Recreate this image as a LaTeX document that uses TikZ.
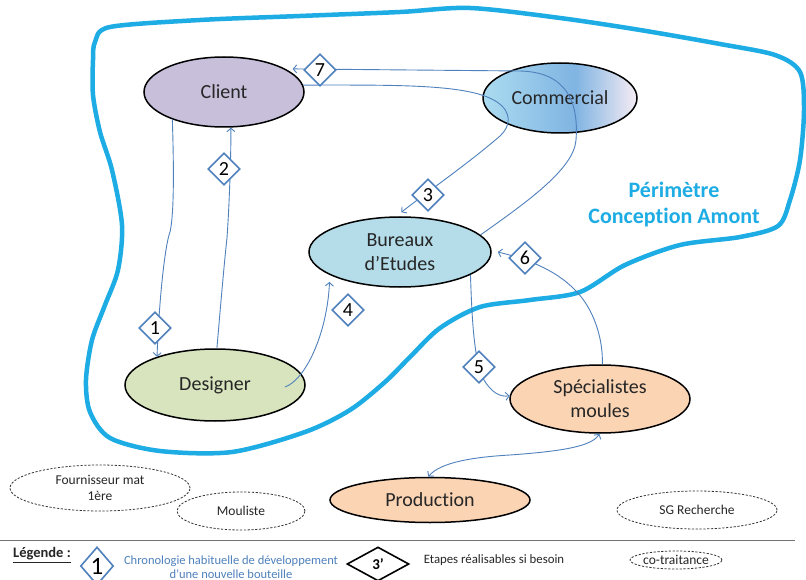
\documentclass[tikz,border=0pt]{standalone}
\usepackage{fontspec}
\setmainfont{Carlito}[Ligatures=NoCommon]
\usetikzlibrary{shapes.geometric,arrows.meta,calc}
\definecolor{lnblue}{HTML}{4F81BD}
\definecolor{perim}{HTML}{1DACE3}
\definecolor{clientc}{HTML}{C8BFDA}
\definecolor{bureauc}{HTML}{B4DCE9}
\definecolor{designc}{HTML}{D7E4BD}
\definecolor{peach}{HTML}{FBD4B4}
\definecolor{commL}{HTML}{ABDBF0}
\definecolor{commM}{HTML}{80B4E2}
\definecolor{commR}{HTML}{F6ECF4}
\definecolor{txt}{HTML}{262626}
\pgfdeclarehorizontalshading{commshade}{100bp}{color(0bp)=(commL); color(25bp)=(commL); color(55bp)=(commM); color(75bp)=(commR); color(100bp)=(commR)}
\tikzset{
  myarrow/.tip={Straight Barb[length=3.5pt,width=8pt]},
  ent/.style={ellipse, draw=black, line width=1.5pt, inner sep=0pt, align=center, text=txt, font=\fontsize{20}{24}\selectfont},
  cotr/.style={ellipse, draw=black!80, line width=0.8pt, dash pattern=on 2.2pt off 1.6pt, inner sep=0pt, align=center, text=txt, font=\fontsize{13.5}{16}\selectfont},
  conn/.style={draw=lnblue, line width=0.9pt, -myarrow},
  stepd/.style={diamond, draw=lnblue, line width=1.6pt, fill=white, inner sep=0pt, minimum width=32pt, minimum height=32pt, text=black, font=\fontsize{20}{20}\selectfont},
  perimline/.style={draw=perim, line width=4.5pt, line join=round},
}
\begin{document}
\begin{tikzpicture}[x=1pt,y=-1pt]
\useasboundingbox (0,0) rectangle (806,580);
\fill[white] (0,0) rectangle (806,580);

% perimeter
\draw[perimline] plot[smooth cycle, tension=0.5] coordinates {
(95,42) (110,27) (200,20) (300,16) (400,12) (470,8) (560,18) (640,30) (720,44) (775,55) (800,72) (804,110) (800,160) (790,200) (778,226) (740,237) (680,245) (625,265) (580,292) (530,300) (480,307) (440,328) (410,357) (385,382) (350,410) (305,432) (232,452) (160,451) (110,438) (90,412) (86,380) (92,340) (105,305) (118,270) (122,225) (112,170) (100,132) (93,95) (93,60)};
\node[text=perim, font=\bfseries\fontsize{22}{26}\selectfont, align=center] (perimtxt) at (674,205) {Périmètre\\Conception Amont};

% entities
\node[ent, fill=clientc, minimum width=160pt, minimum height=70pt] (Client) at (224,92) {Client};
\node[ent, shading=commshade, minimum width=154pt, minimum height=70pt] (Commercial) at (560,98) {Commercial};
\node[ent, fill=bureauc, minimum width=182pt, minimum height=70pt] (Bureaux) at (400,252) {Bureaux\\d’Etudes};
\node[ent, fill=designc, minimum width=180pt, minimum height=72pt] (Designer) at (215,385) {Designer};
\node[ent, fill=peach, minimum width=180pt, minimum height=68pt] (Spec) at (600,399) {Spécialistes\\moules};
\node[ent, fill=peach, minimum width=200pt, minimum height=45pt] (Production) at (430,500) {Production};

% co-traitance partners
\node[cotr, minimum width=180pt, minimum height=46pt, inner xsep=-4pt] (Fourn) at (100,488) {Fournisseur mat\\1ère};
\node[cotr, minimum width=128pt, minimum height=38pt] (Moul) at (241,511) {Mouliste};
\node[cotr, minimum width=160pt, minimum height=38pt] (SG) at (697,510) {SG Recherche};

% connectors
\draw[conn] (Client.208) .. controls (174,170) and (174,215) .. (170,232) .. controls (165,245) and (159,300) .. (Designer.154);
\draw[conn] (Designer.87) .. controls (221,300) and (225,255) .. (227,238) .. controls (229,210) and (231,160) .. (Client.-79);
\draw[conn] (Client.5) .. controls (400,85) and (470,84) .. (497,102) .. controls (512,112) and (511,126) .. (500,136) .. controls (470,162) and (430,190) .. ($(Bureaux.88)+(0,-4)$);
\draw[conn] ($(Designer.center)+(70,2)$) .. controls (305,380) and (327,335) .. ($(Bureaux.198)+(0,7)$);
\draw[conn] (Bureaux.-18) .. controls (472,320) and (474,362) .. (484,380) .. controls (492,393) and (500,397) .. (Spec.178);
\draw[conn] (Spec.86) .. controls (603,335) and (592,308) .. (577,292) .. controls (562,276) and (540,262) .. ($(Bureaux.east)+(6,0)$);
\draw[conn] (Bureaux.12) .. controls (530,200) and (574,168) .. (576,140) .. controls (579,100) and (565,72) .. (520,71) -- ($(Client.22)+(9,1)$);
\draw[conn, myarrow-myarrow] (Production.94) .. controls (440,462) and (475,457) .. (510,455) .. controls (565,451) and (592,446) .. (Spec.-91);

% step diamonds
\node[stepd] (s1) at (155,328) {1};
\node[stepd] (s2) at (224,169) {2};
\node[stepd] (s3) at (428,195) {3};
\node[stepd] (s4) at (348,310) {4};
\node[stepd] (s5) at (479,367) {5};
\node[stepd] (s6) at (525,258) {6};
\node[stepd] (s7) at (320,70) {7};

% legend
\coordinate (lgA) at (0,540);
\coordinate (lgB) at (795,540);
\draw[black!55, line width=1pt] (lgA) -- (lgB);
\node[font=\bfseries\fontsize{14.5}{14}\selectfont, text=txt] (leg) at (42,555) {\underline{Légende :}};
\node[stepd, minimum width=33pt, minimum height=38pt, font=\fontsize{25}{25}\selectfont] (lg1) at (97,566) {1};
\node[text=lnblue, align=center, font=\fontsize{12.5}{14}\selectfont] (lgt1) at (231,567) {Chronologie habituelle de développement\\d’une nouvelle bouteille};
\node[diamond, draw=black, line width=1.6pt, fill=white, minimum width=62pt, minimum height=34pt, inner sep=0pt, font=\bfseries\fontsize{15}{15}\selectfont] (lg3) at (378,564) {3’};
\node[font=\fontsize{12.8}{14}\selectfont, text=txt] (lgt3) at (494,560) {Etapes réalisables si besoin};
\node[cotr, minimum width=92pt, minimum height=18pt, inner xsep=-9pt, inner ysep=-3pt, font=\fontsize{13.5}{14}\selectfont] (lgc) at (676,560) {co-traitance};
\end{tikzpicture}
\end{document}
